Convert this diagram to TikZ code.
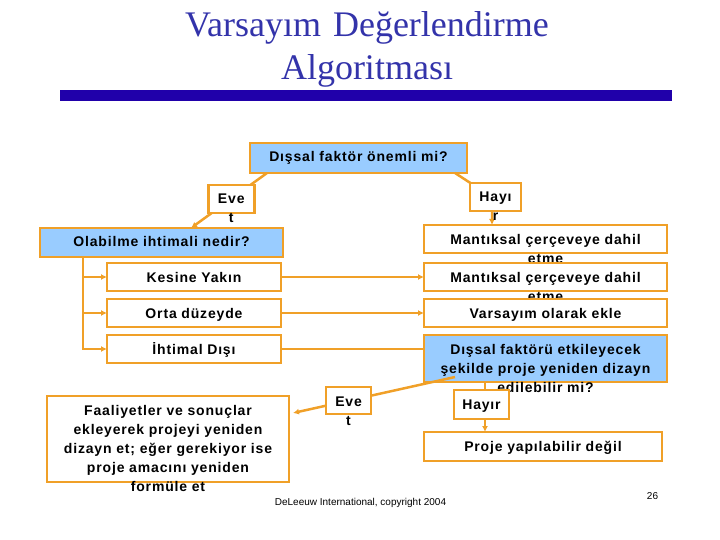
\documentclass[tikz,border=0pt]{standalone}
\usepackage{fontspec}
\usepackage{xcolor}
\usetikzlibrary{arrows.meta,positioning}
\newfontfamily\boxfont[LetterSpace=6]{Liberation Sans}
\newfontfamily\titlefont{Liberation Serif}
\newfontfamily\notefont{Liberation Sans}
\definecolor{boxorange}{RGB}{240,160,40}
\definecolor{boxblue}{RGB}{153,204,255}
\definecolor{titleblue}{RGB}{51,51,170}
\definecolor{barblue}{RGB}{32,0,170}

\begin{document}
\begin{tikzpicture}[
x=1pt, y=-1pt,
node distance=8pt,
box/.style={
rectangle,
draw=boxorange,
line width=2.5pt,
fill=white,
inner sep=0pt,
outer sep=0pt,
align=center,
text height=19pt,
text depth=9pt,
font=\boxfont\bfseries\fontsize{14}{19}\selectfont
},
query/.style={box, fill=boxblue},
tag/.style={box},
title/.style={anchor=base, text width=500pt, align=center, inner sep=0pt,
text=titleblue, font=\titlefont\fontsize{36}{43}\selectfont},
note/.style={inner sep=0pt, font=\notefont\fontsize{10}{12}\selectfont},
arrow/.style={-{Latex[length=6pt,width=6pt]}, draw=boxorange, line width=2.5pt},
link/.style={draw=boxorange, line width=2.5pt}
]
\useasboundingbox (0,0) rectangle (720,540);

\node[title] (title) at (367,37) {Varsayım Değerlendirme\\Algoritması};
\fill[barblue] (60,90) rectangle (672,101);

\node[query, text width=217pt, text depth=11pt] (q1) at (358.5,158) {Dışsal faktör önemli mi?};
\node[query, text width=243pt, text depth=10pt] (olab) at (161.5,242.5) {Olabilme ihtimali nedir?};
\node[box, text width=174pt] (kesine) at (194,277) {Kesine Yakın};
\node[box, text width=174pt, below=of kesine] (orta) {Orta düzeyde};
\node[box, text width=174pt, below=of orta] (ihtimal) {İhtimal Dışı};

\node[box, text width=243pt] (mant1) at (545.5,239) {Mantıksal çerçeveye dahil\\etme};
\node[box, text width=243pt, below=10pt of mant1] (mant2) {Mantıksal çerçeveye dahil\\etme};
\node[box, text width=243pt, below=of mant2] (vars) {Varsayım olarak ekle};
\node[query, text width=243pt, text depth=28pt, below=of vars] (q2) {Dışsal faktörü etkileyecek\\şekilde proje yeniden dizayn\\edilebilir mi?};
\node[box, text width=238pt, text depth=10pt] (proje) at (543,446.5) {Proje yapılabilir değil};
\node[box, text width=242pt, text depth=67pt] (faal) at (168,439) {Faaliyetler ve sonuçlar\\ekleyerek projeyi yeniden\\dizayn et; eğer gerekiyor ise\\proje amacını yeniden\\formüle et};

\draw[arrow] ([xshift=17pt]q1.south west) -- ([xshift=151pt]olab.north west)
node[tag, pos=0.47, text width=46pt] (eve1) {Eve\\t};

\coordinate (bend) at (492,197);
\draw[arrow] ([xshift=-12pt]q1.south east) -- (bend) -- (bend |- mant1.north);
\node[tag, text width=51pt] (hayir1) at (495.5,197) {Hayı\\r};

\coordinate (trunk) at ([xshift=43pt]olab.south west);
\draw[arrow] (trunk) |- (ihtimal);
\draw[arrow] (trunk |- kesine) -- (kesine);
\draw[arrow] (trunk |- orta) -- (orta);

\draw[arrow] (kesine) -- (mant2);
\draw[arrow] (orta) -- (vars);
\draw[link] (ihtimal) -- (ihtimal -| q2.west);

\draw[arrow] ([xshift=31pt,yshift=5pt]q2.south west) -- ([xshift=4pt,yshift=26pt]faal.east)
node[tag, pos=0.657, text width=45pt, text depth=8pt] (eve2) {Eve\\t};

\draw[arrow] ([xshift=61pt]q2.south west) -- ([xshift=61pt]q2.south west |- proje.north);
\node[tag, text width=55pt, text depth=10pt] (hayir2) at (481.5,404.5) {Hayır};

\node[note] (credit) at (360.5,503) {DeLeeuw International, copyright 2004};
\node[note] (page) at (652.5,496) {26};

\end{tikzpicture}
\end{document}
